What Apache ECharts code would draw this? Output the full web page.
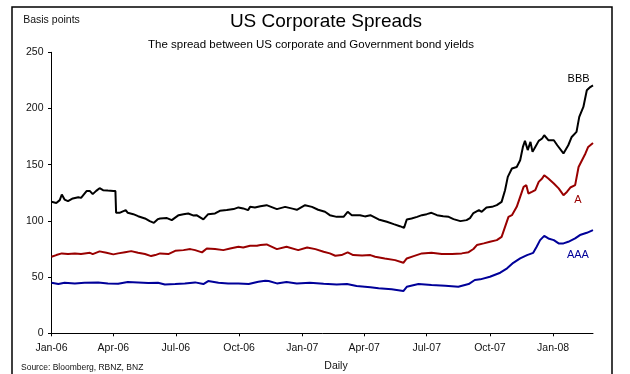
<!DOCTYPE html>
<html>
<head>
<meta charset="utf-8">
<script src="https://cdn.jsdelivr.net/npm/echarts@6/dist/echarts.min.js"></script>
<style>
html,body{margin:0;padding:0;background:#fff;}
#chart{width:630px;height:374px;}
</style>
</head>
<body>
<div id="chart"></div>
<script>
// x positions are days since 1 Jan 2006
const tickDays = [0, 90, 181, 273, 365, 455, 546, 638, 730];
const tickLabels = ['Jan-06','Apr-06','Jul-06','Oct-06','Jan-07','Apr-07','Jul-07','Oct-07','Jan-08'];
const yTicks = [0, 50, 100, 150, 200, 250];

const bbbDays = [0,7,12,15,19,24,31,39,43,51,56,60,65,70,75,82,90,93,94,99,108,111,119,126,136,143,149,155,158,168,175,185,192,199,206,211,221,228,238,245,255,265,272,279,286,289,296,304,313,328,340,352,357,369,379,388,398,405,415,425,431,437,449,456,464,476,488,498,507,513,517,524,532,539,546,553,561,570,578,585,595,604,609,614,622,626,633,641,648,655,660,664,670,677,682,686,689,693,697,700,704,709,714,717,723,731,736,745,752,757,764,768,774,779,784,788];
const bbbVals = [117,116,118.5,123.5,119,117.6,120,121,120.5,126.5,126.5,123.8,126.7,129.1,127.3,127,126.7,126.5,107.2,107.2,109.6,107.2,106,104.2,102.2,99.8,98.3,101.6,102.2,102.5,100.7,105.1,106,106.6,104.9,105.1,101.3,106,106.6,109,109.6,110.5,112,111.1,109.6,112.5,112,113.1,114,110.5,112.5,110.7,109.9,114,112.5,109.9,108.1,105.1,103.6,103.6,108.1,105.1,105.1,104,105.1,101.3,99.2,97.1,95.3,93.8,101.3,102.2,103.6,105.1,106,107.2,105.1,104.2,103.6,101.6,99.8,100.7,102.5,107,109.6,108.1,112,112.5,114,116.9,127.3,139.2,146.6,148,154,165.8,171.2,163,170.3,161.4,165.8,171.2,173.3,176.2,171.8,171.8,167.3,160,167.3,174.7,179.2,192.5,201.4,216.2,219.1,220.6];

const aDays = [0,7,15,24,34,43,56,60,70,80,90,97,107,116,126,136,145,151,158,170,180,192,202,209,219,226,238,250,260,272,279,289,299,304,313,328,342,359,372,384,396,405,413,422,431,439,452,464,471,485,500,512,517,527,539,553,568,583,597,607,614,619,629,638,648,655,660,665,670,677,682,687,691,694,699,704,709,714,717,723,731,738,745,750,755,762,767,772,777,781,788];
const aVals = [68.1,69.6,71.1,70.5,71.1,70.5,71.6,70.5,72.9,71.6,70.2,71.1,72.2,73.1,71.6,70.5,68.7,69.6,71.1,70.5,73.4,74,74.9,74,72,75.5,74.9,74,75.5,77,76.4,77.9,77.9,78.5,79.1,74.9,77,74,76.4,74.9,72.5,71.1,69,69.6,72,69.6,69.3,69.6,68.1,66.6,65.1,62.7,66.6,68.7,71.1,71.6,70.5,70.5,71.1,72.2,75,78.5,80,81.4,82.9,85.8,94.7,103.6,105.1,112.5,121.4,130.3,131.8,124.4,125.8,127.3,134.7,137.7,140.7,137.7,133.3,128.9,122.9,125.8,129.7,131.8,148,154,160,165.8,169.4];

const aaaDays = [0,10,19,34,48,68,82,97,111,126,141,155,165,180,194,209,221,228,243,257,272,287,301,311,316,328,342,357,376,396,415,430,444,464,476,495,512,517,534,553,573,592,607,616,624,638,653,663,672,682,692,701,706,711,717,723,731,738,745,752,762,769,779,788];
const aaaVals = [45,43.8,45,44.4,45,45.3,44.4,44.1,45.6,45.3,44.7,45,43.5,43.8,44.4,45.3,43.8,46.5,45,44.4,44.4,43.8,45.9,46.8,46.5,44.4,45.6,44.4,45,44.1,43.5,43.8,42,40.9,40,39.1,37.6,41.4,43.8,42.9,42.3,41.4,43.8,47.4,48,50.3,53.9,57.8,62.7,66.6,69.6,71.6,77,82.9,86.7,84.4,82.9,80,80,81.4,84.4,87.4,89.4,91.8];

const seriesNames = ['BBB', 'A', 'AAA'];
const seriesColors = ['#000000', '#990000', '#000099'];
// label anchors [day, basis points]
const labelAnchors = [[767, 226.6], [766, 118.5], [766, 69.6]];

const FONT = "'Liberation Sans', Arial, sans-serif";
const chart = echarts.init(document.getElementById('chart'), null, {renderer: 'canvas'});

function pairs(days, vals) { return days.map((d, i) => [d, vals[i]]); }
const allData = [pairs(bbbDays, bbbVals), pairs(aDays, aVals), pairs(aaaDays, aaaVals)];

chart.setOption({
  animation: false,
  backgroundColor: '#ffffff',
  grid: {left: 51.5, right: 37, top: 52.3, bottom: 40.7},
  xAxis: {
    type: 'value', min: 0, max: 788,
    axisLine: {show: true, lineStyle: {color: '#000', width: 1}},
    axisTick: {show: true, inside: false, length: 3, customValues: tickDays, lineStyle: {color: '#000'}},
    axisLabel: {show: true, customValues: tickDays, margin: 9, fontSize: 10.5, color: '#111', fontFamily: FONT,
      formatter: v => { const i = tickDays.indexOf(v); return i >= 0 ? tickLabels[i] : ''; }},
    splitLine: {show: false}
  },
  yAxis: {
    type: 'value', min: 0, max: 250, interval: 50,
    name: 'Basis points', nameLocation: 'end', nameGap: 27,
    nameTextStyle: {fontSize: 10.5, color: '#111', fontFamily: FONT, align: 'center'},
    axisLine: {show: true, lineStyle: {color: '#000', width: 1}},
    axisTick: {show: true, inside: false, length: 3.5, lineStyle: {color: '#000'}},
    axisLabel: {margin: 8, fontSize: 10.5, color: '#111', fontFamily: FONT},
    splitLine: {show: false}
  },
  series: seriesNames.map((n, k) => ({
    name: n, type: 'line', data: allData[k], showSymbol: false, symbol: 'none',
    lineStyle: {color: seriesColors[k], width: 2}, itemStyle: {color: seriesColors[k]},
    markPoint: {
      symbol: 'circle', symbolSize: 1, itemStyle: {color: 'rgba(0,0,0,0)'},
      label: {show: true, position: 'inside', formatter: n, color: seriesColors[k], fontSize: 11, fontFamily: FONT},
      data: [{coord: labelAnchors[k]}]
    }
  })),
  graphic: [
    {type: 'rect', shape: {x: 12, y: 7, width: 600, height: 400}, style: {fill: 'none', stroke: '#000', lineWidth: 1.5}, silent: true},
    {type: 'text', x: 326, y: 22, style: {text: 'US Corporate Spreads', font: '19px ' + FONT, fill: '#000', textAlign: 'center', textVerticalAlign: 'middle'}},
    {type: 'text', x: 311, y: 45, style: {text: 'The spread between US corporate and Government bond yields', font: '11.5px ' + FONT, fill: '#000', textAlign: 'center', textVerticalAlign: 'middle'}},
    {type: 'text', x: 336, y: 366, style: {text: 'Daily', font: '10.5px ' + FONT, fill: '#111', textAlign: 'center', textVerticalAlign: 'middle'}},
    {type: 'text', x: 21, y: 368, style: {text: 'Source: Bloomberg, RBNZ, BNZ', font: '8.5px ' + FONT, fill: '#111', textAlign: 'left', textVerticalAlign: 'middle'}}
  ]
});
</script>
</body>
</html>
